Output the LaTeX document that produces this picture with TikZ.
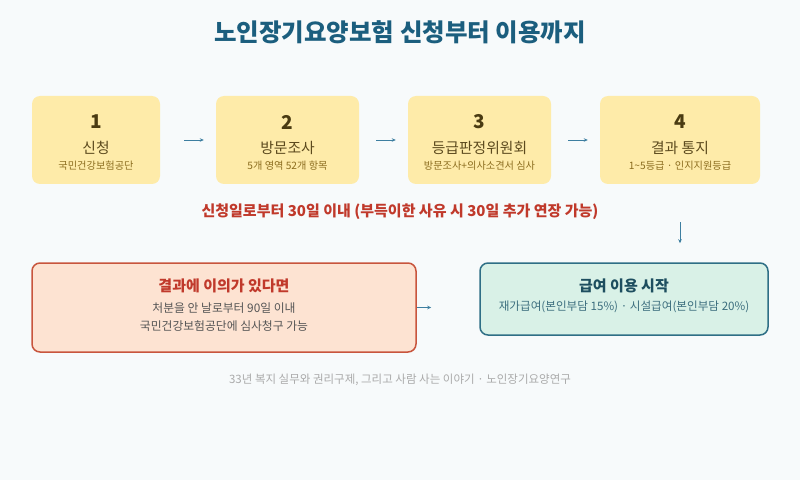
\documentclass[tikz,border=0pt]{standalone}
\usepackage{fontspec}
\usepackage{tikz}
\usetikzlibrary{positioning, arrows.meta}
\setmainfont{Noto Sans CJK KR}

\definecolor{pagebg}{HTML}{F7FAFB}
\definecolor{stepfill}{HTML}{FEEBA9}
\definecolor{numcol}{HTML}{4A3B12}
\definecolor{titlecol}{HTML}{5C4A1E}
\definecolor{subcol}{HTML}{8C6D1F}
\definecolor{headcol}{HTML}{1B5E7E}
\definecolor{arrowcol}{HTML}{3D7EA0}
\definecolor{warncol}{HTML}{C0392B}
\definecolor{appealfill}{HTML}{FDE3D2}
\definecolor{appealline}{HTML}{C8553D}
\definecolor{bodycol}{HTML}{555555}
\definecolor{okfill}{HTML}{D9F1E7}
\definecolor{okline}{HTML}{2F6F86}
\definecolor{oktitle}{HTML}{1D4E5F}
\definecolor{oksub}{HTML}{3C6E7E}
\definecolor{footcol}{HTML}{AAAAAA}

\tikzset{
  stepbox/.style={fill=stepfill, rounded corners=8pt, minimum height=88pt, inner sep=0pt},
  numtext/.style={text=numcol, font=\fontsize{19}{21}\selectfont\bfseries},
  titletext/.style={text=titlecol, font=\fontsize{14.8}{17}\selectfont},
  subtext/.style={text=subcol, font=\fontsize{10.2}{12}\selectfont},
  flow/.style={->, >={Stealth[length=4pt, width=3.5pt]}, draw=arrowcol, line width=0.8pt}
}

\begin{document}
\begin{tikzpicture}[x=1pt, y=1pt, node distance=192pt, on grid]
    \fill[pagebg] (0,0) rectangle (800,480);
    \useasboundingbox (0,0) rectangle (800,480);

    \node[text=headcol, font=\fontsize{24.5}{28}\selectfont\bfseries] (head) at (400,448) {노인장기요양보험 신청부터 이용까지};

    % four steps
    \node[stepbox, minimum width=128pt] (b1) at (96,340) {};
    \node[stepbox, minimum width=143pt] (b2) [right=191.5pt of b1] {};
    \node[stepbox, minimum width=143pt] (b3) [right=of b2] {};
    \node[stepbox, minimum width=160pt] (b4) [right=200.5pt of b3] {};

    \node[numtext] (n1) at ([yshift=18pt]b1.center) {1};
    \node[titletext] (t1) at ([yshift=-8pt]b1.center) {신청};
    \node[subtext] (s1) at ([yshift=-26pt]b1.center) {국민건강보험공단};

    \node[numtext] (n2) at ([yshift=18pt]b2.center) {2};
    \node[titletext] (t2) at ([yshift=-8pt]b2.center) {방문조사};
    \node[subtext] (s2) at ([yshift=-26pt]b2.center) {5개 영역 52개 항목};

    \node[numtext] (n3) at ([yshift=18pt]b3.center) {3};
    \node[titletext] (t3) at ([yshift=-8pt]b3.center) {등급판정위원회};
    \node[subtext] (s3) at ([yshift=-26pt]b3.center) {방문조사+의사소견서 심사};

    \node[numtext] (n4) at ([yshift=18pt]b4.center) {4};
    \node[titletext] (t4) at ([yshift=-8pt]b4.center) {결과 통지};
    \node[subtext] (s4) at ([yshift=-26pt]b4.center) {1\textasciitilde5등급 · 인지지원등급};

    \draw[flow, shorten <=24pt, shorten >=12pt] (b1) -- (b2);
    \draw[flow, shorten <=17pt, shorten >=12pt] (b2) -- (b3);
    \draw[flow, shorten <=17pt, shorten >=12pt] (b3) -- (b4);

    \node[text=warncol, font=\fontsize{15}{17}\selectfont\bfseries] (limit) at (400,268) {신청일로부터 30일 이내 (부득이한 사유 시 30일 추가 연장 가능)};

    % appeal and start
    \node[draw=appealline, fill=appealfill, line width=1.5pt, rounded corners=8pt,
          minimum width=384pt, minimum height=89pt] (appeal) at (224,172.5) {};
    \node[text=warncol, font=\fontsize{15}{17}\selectfont\bfseries] (a1) at ([yshift=22pt]appeal.center) {결과에 이의가 있다면};
    \node[text=bodycol, font=\fontsize{11.8}{14}\selectfont] (a2) at ([yshift=-1pt]appeal.center) {처분을 안 날로부터 90일 이내};
    \node[text=bodycol, font=\fontsize{11.8}{14}\selectfont] (a3) at ([yshift=-19pt]appeal.center) {국민건강보험공단에 심사청구 가능};

    \node[draw=okline, fill=okfill, line width=1.5pt, rounded corners=8pt,
          minimum width=288pt, minimum height=72pt] (ok) at (624,181) {};
    \node[text=oktitle, font=\fontsize{15}{17}\selectfont\bfseries] (o1) at ([yshift=13pt]ok.center) {급여 이용 시작};
    \node[text=oksub, font=\fontsize{11.6}{14}\selectfont] (o2) at ([yshift=-8pt]ok.center) {재가급여(본인부담 15\%) · 시설급여(본인부담 20\%)};

    \draw[flow, shorten <=38pt, shorten >=19pt] (b4.south) -- (b4.south |- ok.north);
    \draw[flow, shorten >=48pt] (appeal.east) -- (ok.west |- appeal.east);

    \node[text=footcol, font=\fontsize{11.5}{13}\selectfont] (foot) at (400,100) {33년 복지 실무와 권리구제, 그리고 사람 사는 이야기 · 노인장기요양연구};
\end{tikzpicture}
\end{document}
